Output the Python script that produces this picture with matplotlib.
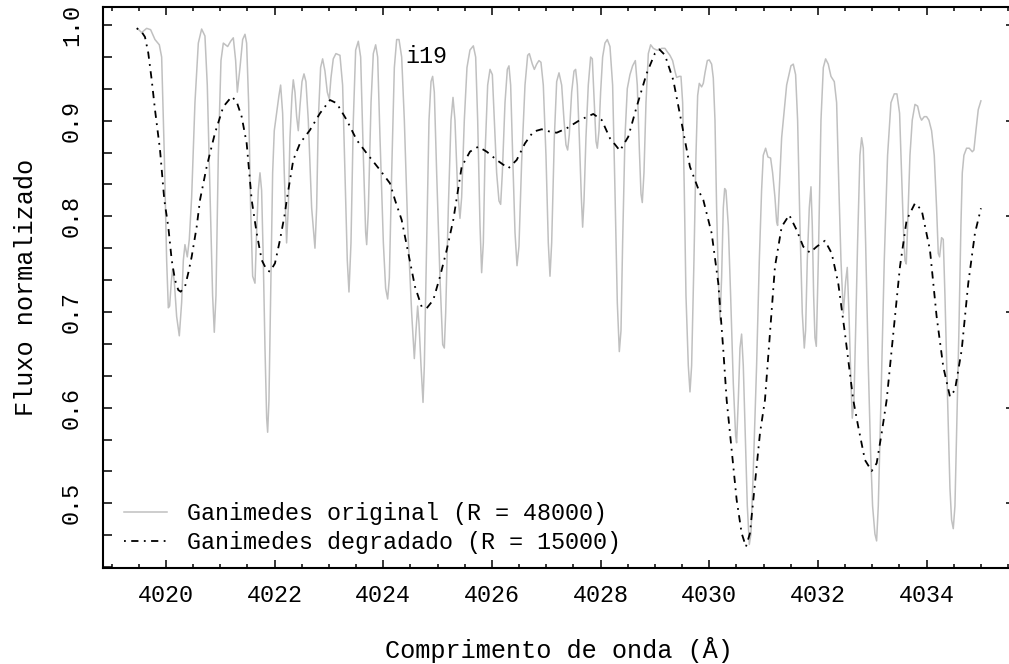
import matplotlib
matplotlib.use("Agg")
import matplotlib.pyplot as plt
from matplotlib.ticker import MultipleLocator, FixedLocator

# ---------------- data ----------------
orig_wave = [
    4019.472, 4019.552, 4019.644, 4019.717, 4019.797, 4019.877, 4019.920, 4019.969, 4020.012, 4020.043,
    4020.067, 4020.098, 4020.122, 4020.153, 4020.196, 4020.245, 4020.288, 4020.319, 4020.349, 4020.392,
    4020.429, 4020.472, 4020.533, 4020.595, 4020.656, 4020.717, 4020.760, 4020.809, 4020.858, 4020.889,
    4020.920, 4020.963, 4021.012, 4021.055, 4021.135, 4021.190, 4021.239, 4021.282, 4021.313, 4021.362,
    4021.411, 4021.454, 4021.484, 4021.521, 4021.558, 4021.595, 4021.638, 4021.668, 4021.699, 4021.730,
    4021.760, 4021.791, 4021.822, 4021.853, 4021.871, 4021.895, 4021.926, 4021.963, 4021.993, 4022.036,
    4022.079, 4022.110, 4022.147, 4022.177, 4022.220, 4022.251, 4022.282, 4022.319, 4022.343, 4022.374,
    4022.405, 4022.435, 4022.466, 4022.503, 4022.540, 4022.576, 4022.619, 4022.681, 4022.742, 4022.773,
    4022.803, 4022.846, 4022.883, 4022.926, 4022.969, 4023.006, 4023.036, 4023.079, 4023.128, 4023.202,
    4023.251, 4023.294, 4023.337, 4023.368,
    4023.405, 4023.448, 4023.491, 4023.540, 4023.583, 4023.632, 4023.675, 4023.694, 4023.724, 4023.774,
    4023.816, 4023.859, 4023.896, 4023.939, 4024.001, 4024.043, 4024.080, 4024.111, 4024.154, 4024.203,
    4024.246, 4024.289, 4024.338, 4024.387, 4024.448, 4024.522, 4024.571, 4024.602, 4024.632, 4024.657,
    4024.694, 4024.731, 4024.755, 4024.798, 4024.841, 4024.878, 4024.908, 4024.939, 4024.982, 4025.043,
    4025.093, 4025.123, 4025.148, 4025.197, 4025.246, 4025.283, 4025.319, 4025.368, 4025.411, 4025.442,
    4025.491, 4025.540, 4025.595, 4025.657, 4025.700, 4025.737, 4025.780, 4025.810, 4025.841, 4025.872,
    4025.921, 4025.964, 4026.007, 4026.043, 4026.086, 4026.129, 4026.160, 4026.191, 4026.240, 4026.283,
    4026.313, 4026.344, 4026.381, 4026.424, 4026.461, 4026.497, 4026.546, 4026.608, 4026.657, 4026.688,
    4026.743, 4026.780, 4026.823, 4026.865, 4026.902, 4026.945, 4026.994, 4027.037, 4027.068, 4027.099,
    4027.148, 4027.191, 4027.234,
    4027.283, 4027.326, 4027.362, 4027.393, 4027.424, 4027.467, 4027.510, 4027.540, 4027.571, 4027.608,
    4027.645, 4027.669, 4027.694, 4027.730, 4027.773, 4027.816, 4027.847, 4027.884, 4027.915, 4027.939,
    4027.970, 4028.000, 4028.037, 4028.080, 4028.123, 4028.172, 4028.221, 4028.264, 4028.307, 4028.344,
    4028.375, 4028.405, 4028.448, 4028.491, 4028.540, 4028.589, 4028.639, 4028.675, 4028.712, 4028.743,
    4028.767, 4028.798, 4028.835, 4028.878, 4028.921, 4028.970, 4029.031, 4029.080, 4029.123, 4029.184,
    4029.227, 4029.276, 4029.325, 4029.368, 4029.399, 4029.448, 4029.479, 4029.510, 4029.540, 4029.571,
    4029.614, 4029.645, 4029.675, 4029.718, 4029.755, 4029.786, 4029.816, 4029.859, 4029.890, 4029.921,
    4029.964, 4030.000, 4030.043, 4030.074, 4030.105, 4030.135, 4030.166, 4030.197, 4030.227, 4030.258,
    4030.283, 4030.307, 4030.350, 4030.393, 4030.442, 4030.485, 4030.503, 4030.534, 4030.565, 4030.595,
    4030.626, 4030.663, 4030.700, 4030.737, 4030.767, 4030.810, 4030.871, 4030.921, 4030.963, 4030.994,
    4031.037, 4031.080, 4031.129, 4031.166, 4031.209, 4031.240,
    4031.258, 4031.332, 4031.424, 4031.503, 4031.546, 4031.589, 4031.626, 4031.669, 4031.712, 4031.749,
    4031.773, 4031.804, 4031.841, 4031.872, 4031.896, 4031.921, 4031.945, 4031.970, 4032.007, 4032.056,
    4032.099, 4032.141, 4032.190, 4032.240, 4032.301, 4032.344, 4032.387, 4032.424, 4032.467, 4032.510,
    4032.540, 4032.571, 4032.608, 4032.632, 4032.663, 4032.694, 4032.730, 4032.773, 4032.804, 4032.835,
    4032.878, 4032.927, 4032.970, 4033.006, 4033.049, 4033.080, 4033.111, 4033.160, 4033.221, 4033.282,
    4033.344, 4033.405, 4033.454, 4033.503, 4033.540, 4033.571, 4033.602, 4033.626, 4033.651, 4033.694,
    4033.736, 4033.786, 4033.835, 4033.878, 4033.908, 4033.957, 4034.000, 4034.043, 4034.092, 4034.141,
    4034.184, 4034.215, 4034.239, 4034.276, 4034.307, 4034.338, 4034.387, 4034.430, 4034.460, 4034.491,
    4034.522, 4034.552, 4034.595, 4034.632, 4034.657, 4034.687, 4034.736, 4034.785, 4034.841, 4034.871,
    4034.908, 4034.951, 4035.000,
]
orig_flux = [
    0.9965, 0.9921, 0.9965, 0.9951, 0.9848, 0.9793, 0.9665, 0.8638, 0.7539, 0.7044,
    0.7062, 0.7319, 0.7447, 0.7319, 0.6953, 0.6751, 0.7099, 0.7539, 0.7704, 0.7576,
    0.7759, 0.8199, 0.9188, 0.9811, 0.9958, 0.9885, 0.9372, 0.8272, 0.7172, 0.6788,
    0.7172, 0.8638, 0.9628, 0.9811, 0.9775, 0.9830, 0.9866, 0.9628, 0.9298, 0.9555,
    0.9848, 0.9903, 0.9811, 0.9188, 0.8089, 0.7374, 0.7301, 0.7832, 0.8272, 0.8455,
    0.8272, 0.7539, 0.6623, 0.5890, 0.5743, 0.6073, 0.7172, 0.8455, 0.8895, 0.9078,
    0.9262, 0.9372, 0.9078, 0.8455, 0.7722, 0.8089, 0.8822, 0.9262, 0.9427, 0.9298,
    0.9042, 0.8895, 0.9152, 0.9408, 0.9489, 0.9408, 0.9005, 0.8089, 0.7667, 0.8089,
    0.9005, 0.9555, 0.9646, 0.9518, 0.9298, 0.9225, 0.9445, 0.9646, 0.9701, 0.9683,
    0.9372, 0.8455, 0.7539, 0.7209,
    0.7722, 0.9005, 0.9738, 0.9830, 0.9665, 0.8638, 0.7832, 0.7704, 0.8052, 0.9188,
    0.9701, 0.9793, 0.9665, 0.8822, 0.7722, 0.7246, 0.7136, 0.7356, 0.8455, 0.9555,
    0.9848, 0.9848, 0.9665, 0.9005, 0.7905, 0.6989, 0.6513, 0.6806, 0.7062, 0.6879,
    0.6439, 0.6055, 0.6439, 0.7722, 0.9005, 0.9408, 0.9463, 0.9298, 0.8455, 0.7356,
    0.6659, 0.6623, 0.6989, 0.8089, 0.9005, 0.9243, 0.9005, 0.8272, 0.7979, 0.8199,
    0.9005, 0.9555, 0.9738, 0.9782, 0.9665, 0.9005, 0.7905, 0.7411, 0.7722, 0.8638,
    0.9372, 0.9536, 0.9481, 0.9005, 0.8455, 0.8162, 0.8125, 0.8455, 0.9188, 0.9536,
    0.9573, 0.9372, 0.8638, 0.7832, 0.7484, 0.7686, 0.8565, 0.9372, 0.9683, 0.9701,
    0.9591, 0.9536, 0.9591, 0.9628, 0.9610, 0.9372, 0.8638, 0.7722, 0.7374, 0.7722,
    0.8822, 0.9408, 0.9500,
    0.9372, 0.9005, 0.8748, 0.8693, 0.8858, 0.9298, 0.9518, 0.9536, 0.9372, 0.8822,
    0.8199, 0.7887, 0.8162, 0.8822, 0.9372, 0.9665, 0.9646, 0.9188, 0.8785, 0.8712,
    0.8895, 0.9298, 0.9665, 0.9811, 0.9848, 0.9775, 0.9372, 0.8272, 0.7099, 0.6586,
    0.6806, 0.7722, 0.8822, 0.9335, 0.9481, 0.9573, 0.9628, 0.9372, 0.8712, 0.8235,
    0.8144, 0.8455, 0.9188, 0.9701, 0.9793, 0.9756, 0.9738, 0.9738, 0.9756, 0.9756,
    0.9720, 0.9683, 0.9628, 0.9518, 0.9452, 0.9463, 0.9463, 0.9188, 0.8272, 0.7172,
    0.6439, 0.6165, 0.6439, 0.7539, 0.8638, 0.9262, 0.9390, 0.9353, 0.9390, 0.9500,
    0.9628, 0.9635, 0.9591, 0.9445, 0.9005, 0.8089, 0.7356, 0.6916, 0.7356, 0.8089,
    0.8290, 0.8272, 0.7905, 0.7172, 0.6256, 0.5706, 0.5633, 0.6073, 0.6623, 0.6769,
    0.6439, 0.5706, 0.4973, 0.4570, 0.4680, 0.5340, 0.6439, 0.7539, 0.8272, 0.8638,
    0.8712, 0.8620, 0.8609, 0.8455, 0.8199, 0.7942,
    0.7905, 0.8822, 0.9372, 0.9573, 0.9591, 0.9481, 0.9005, 0.7905, 0.6989, 0.6623,
    0.6806, 0.7539, 0.8089, 0.8309, 0.7905, 0.7172, 0.6733, 0.6641, 0.7539, 0.9005,
    0.9555, 0.9646, 0.9591, 0.9463, 0.9408, 0.9188, 0.8272, 0.7539, 0.6989, 0.7319,
    0.7466, 0.6989, 0.6256, 0.5890, 0.6073, 0.6806, 0.7722, 0.8638, 0.8822, 0.8712,
    0.7722, 0.6439, 0.5523, 0.4973, 0.4680, 0.4607, 0.4973, 0.6073, 0.7539, 0.8638,
    0.9188, 0.9280, 0.9280, 0.9078, 0.8455, 0.7905, 0.7539, 0.7502, 0.7905, 0.8638,
    0.9005, 0.9170, 0.9152, 0.9042, 0.9005, 0.9042, 0.9042, 0.9005, 0.8895, 0.8638,
    0.8089, 0.7612, 0.7576, 0.7777, 0.7759, 0.7172, 0.6073, 0.5157, 0.4827, 0.4735,
    0.4973, 0.5706, 0.6806, 0.7905, 0.8455, 0.8638, 0.8712, 0.8712, 0.8675, 0.8693,
    0.8895, 0.9115, 0.9207,
]

degr_wave = [
    4019.461, 4019.553, 4019.613, 4019.674, 4019.737, 4019.798, 4019.890, 4019.969, 4020.042, 4020.105,
    4020.166, 4020.226, 4020.271, 4020.350, 4020.410, 4020.473, 4020.565, 4020.626, 4020.749, 4020.902,
    4021.055, 4021.209, 4021.301, 4021.393, 4021.485, 4021.577, 4021.669, 4021.761, 4021.853, 4021.914,
    4022.006, 4022.098, 4022.190, 4022.222, 4022.343, 4022.466, 4022.650, 4022.834, 4023.019, 4023.142,
    4023.326, 4023.510, 4023.694, 4023.939, 4024.123, 4024.215, 4024.338, 4024.460, 4024.583, 4024.706,
    4024.798, 4024.920, 4025.043, 4025.167, 4025.288, 4025.443, 4025.595, 4025.748, 4025.903, 4026.087,
    4026.301, 4026.455, 4026.608, 4026.761, 4026.915, 4027.068, 4027.191, 4027.375, 4027.620, 4027.865,
    4028.020, 4028.172, 4028.356, 4028.509, 4028.664, 4028.848, 4029.000, 4029.080, 4029.184, 4029.337,
    4029.492, 4029.644, 4029.828, 4029.890, 4030.044, 4030.166, 4030.258, 4030.320, 4030.412, 4030.504,
    4030.596, 4030.675, 4030.749, 4030.841, 4030.933, 4031.025, 4031.117, 4031.209, 4031.333, 4031.472,
    4031.608, 4031.730, 4031.853, 4031.977, 4032.129, 4032.253, 4032.374, 4032.497, 4032.589, 4032.650,
    4032.742, 4032.865, 4032.989, 4033.081, 4033.173, 4033.265, 4033.387, 4033.510, 4033.633, 4033.786,
    4033.909, 4034.062, 4034.185, 4034.307, 4034.430, 4034.522, 4034.646, 4034.767, 4034.890, 4035.001,
]
degr_flux = [
    0.9966, 0.9927, 0.9875, 0.9707, 0.9425, 0.9112, 0.8694, 0.8171, 0.7892, 0.7544,
    0.7335, 0.7230, 0.7212, 0.7265, 0.7408, 0.7578, 0.7892, 0.8171, 0.8519, 0.8871,
    0.9146, 0.9251, 0.9198, 0.9041, 0.8763, 0.8171, 0.7826, 0.7544, 0.7439, 0.7421,
    0.7509, 0.7753, 0.8035, 0.8171, 0.8589, 0.8763, 0.8902, 0.9077, 0.9216, 0.9182,
    0.9007, 0.8798, 0.8659, 0.8484, 0.8345, 0.8171, 0.7962, 0.7617, 0.7265, 0.7055,
    0.7039, 0.7126, 0.7369, 0.7648, 0.7962, 0.8519, 0.8676, 0.8728, 0.8676, 0.8589,
    0.8502, 0.8589, 0.8763, 0.8885, 0.8910, 0.8885, 0.8874, 0.8920, 0.9007, 0.9070,
    0.9007, 0.8816, 0.8686, 0.8832, 0.9146, 0.9495, 0.9704, 0.9746, 0.9686, 0.9425,
    0.8973, 0.8519, 0.8241, 0.8171, 0.7823, 0.7300, 0.6603, 0.6080, 0.5558, 0.5035,
    0.4687, 0.4547, 0.4687, 0.5210, 0.5732, 0.6080, 0.6777, 0.7474, 0.7892, 0.8014,
    0.7857, 0.7683, 0.7620, 0.7683, 0.7745, 0.7614, 0.7300, 0.6777, 0.6359, 0.6080,
    0.5801, 0.5453, 0.5338, 0.5419, 0.5732, 0.6080, 0.6777, 0.7474, 0.7962, 0.8136,
    0.8066, 0.7648, 0.6951, 0.6428, 0.6115, 0.6185, 0.6603, 0.7300, 0.7823, 0.8084,
]

label_orig = "Ganimedes original (R = 48000)"
label_degr = "Ganimedes degradado (R = 15000)"
x_ticks = [4020, 4022, 4024, 4026, 4028, 4030, 4032, 4034]
y_ticks = [0.5, 0.6, 0.7, 0.8, 0.9, 1.0]
y_tick_labels = ["0.5", "0.6", "0.7", "0.8", "0.9", "1.0"]
y_minor = [0.4 + k / 30 for k in range(1, 19)]
annotation = "i19"
xlabel = "Comprimento de onda (Å)"
ylabel = "Fluxo normalizado"

# ---------------- figure ----------------
FONT = "Liberation Mono"
plt.rcParams["font.family"] = [FONT, "DejaVu Sans Mono"]

W, H = 1009, 664
fig = plt.figure(figsize=(W / 100, H / 100), dpi=100)
ax = fig.add_axes([103.3 / W, (H - 567.7) / H, (1014.6 - 103.3) / W, (567.7 - 7.3) / H])

ax.plot(orig_wave, orig_flux, color="#c0c0c0", lw=1.1, label=label_orig,
        solid_joinstyle="round")
ax.plot(degr_wave, degr_flux, color="black", lw=1.3, dashes=(1, 3, 4, 3),
        label=label_degr)

ax.set_xlim(4018.846, 4035.62)
ax.set_ylim(0.4327, 1.0185)

ax.xaxis.set_major_locator(FixedLocator(x_ticks))
ax.xaxis.set_minor_locator(MultipleLocator(0.5))
ax.yaxis.set_major_locator(FixedLocator(y_ticks))
ax.yaxis.set_minor_locator(FixedLocator(y_minor))
ax.set_yticklabels(y_tick_labels)

fs_tick = 16.8
fs_lab = 18.2
ax.tick_params(axis="x", which="major", direction="in", length=6, width=1.1,
               top=True, bottom=True, labelsize=fs_tick, pad=12)
ax.tick_params(axis="x", which="minor", direction="in", length=3, width=1.1,
               top=True, bottom=True)
ax.tick_params(axis="y", which="major", direction="in", length=6.5, width=1.1,
               left=True, right=True, labelsize=fs_tick)
ax.tick_params(axis="y", which="minor", direction="in", length=6.5, width=1.1,
               left=True, right=False)
for lab in ax.get_yticklabels():
    lab.set_rotation(90)
    lab.set_va("center")
    lab.set_ha("center")
ax.yaxis.set_tick_params(pad=23)

for s in ax.spines.values():
    s.set_linewidth(1.5)

ax.set_xlabel(xlabel, fontsize=fs_lab, labelpad=21.5)
ax.set_ylabel(ylabel, fontsize=fs_lab, labelpad=16)

ax.text(4024.80, 0.967, annotation, fontsize=fs_tick, ha="center", va="center")

leg = ax.legend(loc="lower left", bbox_to_anchor=(0.0227, 0.0241), frameon=False,
                fontsize=fs_tick, handlelength=1.85, handletextpad=0.85,
                labelspacing=0.27, borderaxespad=0.0, borderpad=0.0)

fig.savefig("out.png", dpi=100)
